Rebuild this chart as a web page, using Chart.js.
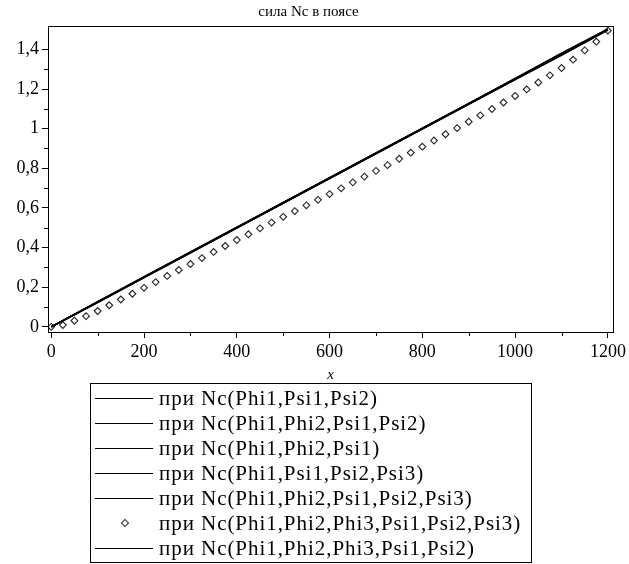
<!DOCTYPE html>
<html>
<head>
<meta charset="utf-8">
<script src="https://cdn.jsdelivr.net/npm/chart.js@4"></script>
<style>
  html, body { margin:0; padding:0; background:#fff; }
  #wrap { position:relative; width:629px; height:564px; }
  #c { position:absolute; left:0; top:0; }
  #legend { position:absolute; left:90px; top:383px; width:442px; height:180px; box-sizing:border-box;
            border:1px solid #000; padding-top:2px; font-family:"Liberation Serif", serif; font-size:21px; letter-spacing:0.95px; color:#000; }
  .row { height:25px; position:relative; white-space:nowrap; }
  .sample { position:absolute; left:4px; top:12px; width:58px; height:0; border-top:1.3px solid #000; }
  .dia { position:absolute; left:31px; top:9px; width:4px; height:4px; border:1px solid #333; transform:rotate(45deg); background:#fff; }
  .txt { position:absolute; left:68px; top:0; line-height:25px; }
</style>
</head>
<body>
<div id="wrap">
  <canvas id="c" width="629" height="386"></canvas>
  <div id="legend"></div>
</div>
<script>
// ---- data ----
const chartTitle = "сила Nc в поясе";
const xLineValues = [0,100,200,300,400,500,600,700,800,900,1000,1100,1200];
const seriesLabels = [
  "при Nc(Phi1,Psi1,Psi2)",
  "при Nc(Phi1,Phi2,Psi1,Psi2)",
  "при Nc(Phi1,Phi2,Psi1)",
  "при Nc(Phi1,Psi1,Psi2,Psi3)",
  "при Nc(Phi1,Phi2,Psi1,Psi2,Psi3)",
  "при Nc(Phi1,Phi2,Phi3,Psi1,Psi2,Psi3)",
  "при Nc(Phi1,Phi2,Phi3,Psi1,Psi2)"
];
const nc1 = [0,0.125,0.250,0.375,0.500,0.625,0.750,0.875,1.000,1.125,1.250,1.375,1.500];
const nc2 = [0,0.127,0.253,0.378,0.503,0.628,0.753,0.878,1.003,1.128,1.254,1.381,1.503];
const nc3 = [0,0.123,0.248,0.373,0.498,0.623,0.748,0.873,0.998,1.123,1.247,1.370,1.497];
const nc4 = [0,0.126,0.251,0.376,0.501,0.626,0.751,0.876,1.001,1.126,1.252,1.378,1.501];
const nc5 = [0,0.124,0.249,0.374,0.499,0.624,0.749,0.874,0.999,1.124,1.248,1.372,1.498];
const nc7 = [0,0.125,0.251,0.376,0.501,0.626,0.751,0.876,1.001,1.126,1.251,1.376,1.500];
const xDiamond = [0,25,50,75,100,125,150,175,200,225,250,275,300,325,350,375,400,425,450,475,500,525,550,575,600,625,650,675,700,725,750,775,800,825,850,875,900,925,950,975,1000,1025,1050,1075,1100,1125,1150,1175,1200];
const nc6 = [0.000,0.009,0.031,0.054,0.080,0.109,0.138,0.167,0.197,0.226,0.257,0.287,0.317,0.347,0.378,0.408,0.438,0.467,0.497,0.526,0.555,0.584,0.613,0.641,0.670,0.699,0.729,0.758,0.787,0.816,0.848,0.879,0.909,0.940,0.972,1.003,1.035,1.067,1.099,1.132,1.165,1.198,1.233,1.269,1.306,1.348,1.395,1.439,1.495];
const xTicks = [0,200,400,600,800,1000,1200];
const xMinorTicks = [100,300,500,700,900,1100];
const yTicks = [0,0.2,0.4,0.6,0.8,1.0,1.2,1.4];
const yTickLabels = ["0","0,2","0,4","0,6","0,8","1","1,2","1,4"];
const yMinorTicks = [0.1,0.3,0.5,0.7,0.9,1.1,1.3];

// ---- build ----
function pts(xs, ys){ return xs.map((x,i)=>({x:x, y:ys[i]})); }
function lineDs(label, ys){
  return { label, data: pts(xLineValues, ys), borderColor:'#000', borderWidth:1.5,
           pointRadius:0, fill:false, tension:0, showLine:true };
}
const datasets = [
  lineDs(seriesLabels[0], nc1),
  lineDs(seriesLabels[1], nc2),
  lineDs(seriesLabels[2], nc3),
  lineDs(seriesLabels[3], nc4),
  lineDs(seriesLabels[4], nc5),
  { label: seriesLabels[5], data: pts(xDiamond, nc6), showLine:false, pointStyle:'rectRot',
    pointRadius:3.4, pointBorderWidth:1.1, pointBorderColor:'#222', pointBackgroundColor:'#fff' },
  lineDs(seriesLabels[6], nc7)
];

const serif = '"Liberation Serif", "Times New Roman", serif';

const framePlugin = {
  id:'frame',
  afterDraw(chart){
    const ctx = chart.ctx, a = chart.chartArea;
    const xs = chart.scales.x, ys = chart.scales.y;
    ctx.save();
    ctx.strokeStyle = '#000'; ctx.lineWidth = 1;
    ctx.strokeRect(Math.round(a.left)+0.5, Math.round(a.top)+0.5, Math.round(a.right-a.left), Math.round(a.bottom-a.top));
    ctx.beginPath();
    xMinorTicks.forEach(v=>{ const px = Math.round(xs.getPixelForValue(v))+0.5;
      ctx.moveTo(px, a.bottom); ctx.lineTo(px, a.bottom+4); });
    yMinorTicks.forEach(v=>{ const py = Math.round(ys.getPixelForValue(v))+0.5;
      ctx.moveTo(a.left, py); ctx.lineTo(a.left-4, py); });
    ctx.stroke();
    ctx.restore();
  }
};

const chart = new Chart(document.getElementById('c'), {
  type:'scatter',
  data:{ datasets },
  options:{
    responsive:false, animation:false, devicePixelRatio:1,
    layout:{ padding:{ left:0, right:12, top:0, bottom:0 } },
    plugins:{
      legend:{ display:false },
      tooltip:{ enabled:false },
      title:{ display:true, text:chartTitle, color:'#000',
              font:{ family:serif, size:15, weight:'normal' }, padding:{ top:3, bottom:5 } }
    },
    scales:{
      x:{ type:'linear', position:'bottom', min:-7, max:1211,
          afterBuildTicks:s=>{ s.ticks = xTicks.map(v=>({value:v})); },
          afterFit:s=>{ s.height = 54; },
          ticks:{ color:'#000', font:{ family:serif, size:18 }, maxRotation:0, autoSkip:false, padding:3,
                  callback:(v)=>String(v) },
          grid:{ display:true, drawOnChartArea:false, drawTicks:true, tickLength:6, color:'#000' },
          border:{ display:true, color:'#000', width:1 },
          title:{ display:true, text:'x', color:'#000', font:{ family:serif, size:15, style:'italic' }, padding:{top:0,bottom:2} } },
      y:{ type:'linear', min:-0.026, max:1.518,
          afterBuildTicks:s=>{ s.ticks = yTicks.map(v=>({value:v})); },
          afterFit:s=>{ s.width = 48; },
          ticks:{ color:'#000', font:{ family:serif, size:18 }, autoSkip:false, padding:3,
                  callback:(v)=>{ const i = yTicks.findIndex(t=>Math.abs(t-v)<1e-9); return i>=0 ? yTickLabels[i] : ''; } },
          grid:{ display:true, drawOnChartArea:false, drawTicks:true, tickLength:6, color:'#000' },
          border:{ display:true, color:'#000', width:1 } }
    }
  },
  plugins:[framePlugin]
});

// ---- HTML legend built from the chart's datasets ----
const leg = document.getElementById('legend');
chart.data.datasets.forEach(ds=>{
  const row = document.createElement('div'); row.className='row';
  const s = document.createElement('span');
  s.className = ds.showLine === false ? 'dia' : 'sample';
  const t = document.createElement('span'); t.className='txt'; t.textContent = ds.label;
  row.appendChild(s); row.appendChild(t); leg.appendChild(row);
});
</script>
</body>
</html>
